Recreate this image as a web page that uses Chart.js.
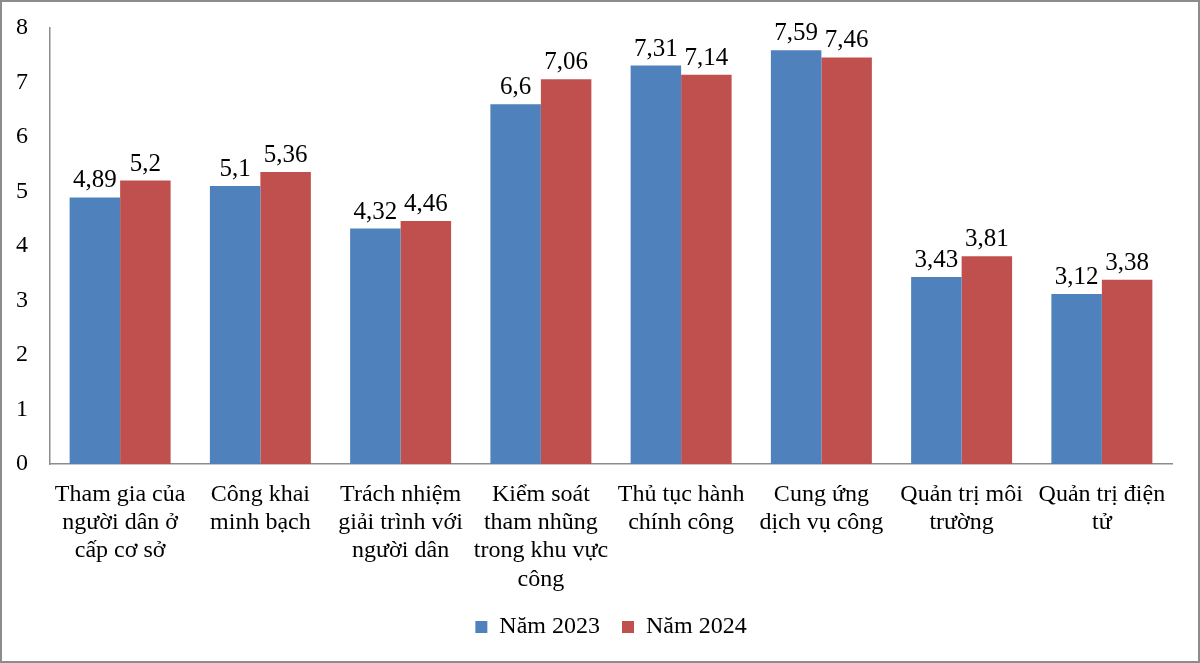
<!DOCTYPE html>
<html>
<head>
<meta charset="utf-8">
<script src="https://cdn.jsdelivr.net/npm/chart.js@4"></script>
<style>
  html, body { margin: 0; padding: 0; background: #fff; }
  #wrap { width: 1200px; height: 663px; position: relative; }
</style>
</head>
<body>
<div id="wrap"><canvas id="chart"></canvas></div>
<script>
// categories (line-split like the original axis labels)
const categories = [
    ['Tham gia của', 'người dân ở', 'cấp cơ sở'],
    ['Công khai', 'minh bạch'],
    ['Trách nhiệm', 'giải trình với', 'người dân'],
    ['Kiểm soát', 'tham nhũng', 'trong khu vực', 'công'],
    ['Thủ tục hành', 'chính công'],
    ['Cung ứng', 'dịch vụ công'],
    ['Quản trị môi', 'trường'],
    ['Quản trị điện', 'tử']
];
const values2023 = [4.89, 5.1, 4.32, 6.6, 7.31, 7.59, 3.43, 3.12];
const values2024 = [5.2, 5.36, 4.46, 7.06, 7.14, 7.46, 3.81, 3.38];
const seriesNames = ['Năm 2023', 'Năm 2024'];
const yTicks = [0, 1, 2, 3, 4, 5, 6, 7, 8];

const FONT = 'Liberation Serif, Times New Roman, serif';

function fmt(v) { return String(v).replace('.', ','); }

// value labels above each bar
const valueLabels = {
    id: 'valueLabels',
    afterDatasetsDraw(chart) {
        const ctx = chart.ctx;
        ctx.save();
        ctx.font = '25px ' + FONT;
        ctx.fillStyle = '#000';
        ctx.textAlign = 'center';
        ctx.textBaseline = 'alphabetic';
        chart.data.datasets.forEach((ds, i) => {
            chart.getDatasetMeta(i).data.forEach((bar, j) => {
                ctx.fillText(fmt(ds.data[j]), bar.x, bar.y - 10);
            });
        });
        ctx.restore();
    }
};

// grey frame round the whole picture
const frame = {
    id: 'frame',
    afterDraw(chart) {
        const ctx = chart.ctx;
        ctx.save();
        ctx.strokeStyle = '#8c8c8c';
        ctx.lineWidth = 2;
        ctx.strokeRect(1, 1, chart.width - 2, chart.height - 2);
        ctx.restore();
    }
};

new Chart(document.getElementById('chart'), {
    type: 'bar',
    data: {
        labels: categories,
        datasets: [
            { label: seriesNames[0], data: values2023, backgroundColor: '#4F81BD' },
            { label: seriesNames[1], data: values2024, backgroundColor: '#C0504D' }
        ]
    },
    options: {
        responsive: true,
        maintainAspectRatio: false,
        animation: false,
        layout: { padding: { top: 28, right: 28, left: 0, bottom: 14 } },
        datasets: { bar: { categoryPercentage: 0.72, barPercentage: 1.0 } },
        plugins: {
            legend: {
                position: 'bottom',
                fullSize: false,
                labels: {
                    font: { family: FONT, size: 24 },
                    color: '#000',
                    boxWidth: 12,
                    boxHeight: 12,
                    padding: 22
                }
            },
            tooltip: { enabled: false }
        },
        scales: {
            x: {
                grid: { display: false, drawTicks: false },
                border: { color: '#8c8c8c', width: 1.5 },
                ticks: {
                    font: { family: FONT, size: 24, lineHeight: 1.17 },
                    color: '#000',
                    padding: 17,
                    maxRotation: 0,
                    autoSkip: false
                },
                afterFit(scale) { scale.height = 129; }
            },
            y: {
                min: 0,
                max: 8,
                afterBuildTicks(scale) { scale.ticks = yTicks.map(v => ({ value: v })); },
                grid: { display: false, drawTicks: false },
                border: { color: '#8c8c8c', width: 1.5 },
                ticks: {
                    font: { family: FONT, size: 24 },
                    color: '#000',
                    padding: 22
                },
                afterFit(scale) {
                    scale.width = 50;
                    scale.paddingTop = 0;
                    scale.paddingBottom = 0;
                }
            }
        }
    },
    plugins: [valueLabels, frame]
});
</script>
</body>
</html>
